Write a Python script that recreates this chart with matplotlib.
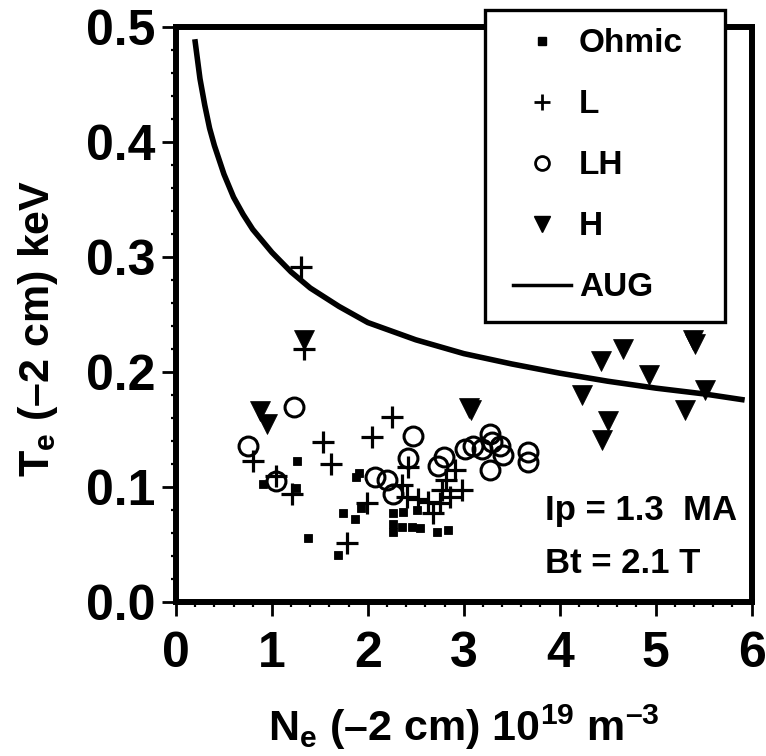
import matplotlib
matplotlib.use('Agg')
import matplotlib.pyplot as plt
from matplotlib import font_manager
from matplotlib.lines import Line2D
from matplotlib.legend_handler import HandlerLine2D
from matplotlib.ticker import MultipleLocator, FixedLocator, FixedFormatter

# ---------------- data ----------------
ohmic_x = [1.265, 0.904, 1.251, 1.908, 1.874, 1.745, 1.870, 1.926, 1.380, 1.693,
           2.266, 2.370, 2.510, 2.266, 2.353, 2.458, 2.544, 2.266, 2.718, 2.840]
ohmic_y = [0.123, 0.103, 0.099, 0.112, 0.109, 0.0775, 0.0726, 0.082, 0.056, 0.041,
           0.077, 0.078, 0.080, 0.068, 0.065, 0.065, 0.064, 0.061, 0.061, 0.0625]

L_x = [1.300, 1.335, 0.806, 1.530, 1.613, 2.040, 2.249, 1.043, 1.206, 1.988, 1.786,
       2.420, 2.353, 2.405, 2.527, 2.630, 2.683, 2.770, 2.820, 2.910, 2.980, 2.857, 2.753]
L_y = [0.291, 0.220, 0.123, 0.139, 0.120, 0.1435, 0.161, 0.110, 0.0935, 0.086, 0.051,
       0.1175, 0.1016, 0.0914, 0.090, 0.087, 0.077, 0.097, 0.106, 0.115, 0.097, 0.091, 0.086]

LH_x = [1.230, 0.751, 1.043, 2.075, 2.197, 2.266, 2.475, 2.420, 2.735, 2.795,
        3.014, 3.100, 3.187, 3.274, 3.290, 3.378, 3.413, 3.274, 3.674, 3.674]
LH_y = [0.170, 0.136, 0.105, 0.109, 0.106, 0.094, 0.144, 0.125, 0.118, 0.126,
        0.133, 0.136, 0.133, 0.146, 0.139, 0.136, 0.128, 0.115, 0.1305, 0.122]

H_x = [0.876, 0.945, 1.335, 3.050, 3.080, 4.230, 4.430, 4.445, 4.500, 4.665,
       4.930, 5.310, 5.390, 5.410, 5.516]
H_y = [0.166, 0.155, 0.228, 0.169, 0.167, 0.180, 0.210, 0.141, 0.157, 0.220,
       0.197, 0.167, 0.228, 0.224, 0.184]

aug_x = [0.20, 0.25, 0.30, 0.35, 0.40, 0.50, 0.60, 0.70, 0.80, 1.00, 1.20, 1.40,
         1.70, 2.00, 2.50, 3.00, 3.50, 4.00, 4.50, 5.00, 5.50, 5.90]
aug_y = [0.487, 0.455, 0.432, 0.412, 0.397, 0.372, 0.352, 0.337, 0.324, 0.304, 0.287,
         0.273, 0.257, 0.243, 0.228, 0.216, 0.207, 0.199, 0.192, 0.186, 0.181, 0.176]

legend_labels = ['Ohmic', 'L', 'LH', 'H', 'AUG']
x_ticks = [0, 1, 2, 3, 4, 5, 6]
x_tick_labels = ['0', '1', '2', '3', '4', '5', '6']
y_ticks = [0.0, 0.1, 0.2, 0.3, 0.4, 0.5]
y_tick_labels = ['0.0', '0.1', '0.2', '0.3', '0.4', '0.5']

# ---------------- fonts ----------------
names = {f.name for f in font_manager.fontManager.ttflist}
font = 'Liberation Sans Narrow' if 'Liberation Sans Narrow' in names else 'Liberation Sans'
plt.rcParams['font.family'] = [font, 'DejaVu Sans']
plt.rcParams['font.weight'] = 'bold'
plt.rcParams['mathtext.fontset'] = 'custom'
plt.rcParams['mathtext.rm'] = font + ':bold'
plt.rcParams['mathtext.it'] = font + ':bold'
plt.rcParams['mathtext.bf'] = font + ':bold'
plt.rcParams['mathtext.default'] = 'rm'

W, H = 766, 756
fig = plt.figure(figsize=(W / 100, H / 100), dpi=100)
L0, R0, T0, B0 = 176, 751.5, 27, 602
ax = fig.add_axes([L0 / W, 1 - B0 / H, (R0 - L0) / W, (B0 - T0) / H])

ax.plot(aug_x, aug_y, color='k', lw=4, solid_joinstyle='round', zorder=2)
ax.plot(ohmic_x, ohmic_y, ls='none', marker='s', ms=5.2, mew=0.6, color='k', zorder=3)
ax.plot(L_x, L_y, ls='none', marker='+', ms=15.5, mew=2.3, color='k', zorder=3)
ax.plot(LH_x, LH_y, ls='none', marker='o', ms=13.6, mew=2.2, mfc='none', mec='k', zorder=3)
ax.plot(H_x, H_y, ls='none', marker='v', ms=15, mew=0.5, color='k', zorder=3)

ax.set_xlim(0, 6)
ax.set_ylim(0, 0.5)
ax.xaxis.set_major_locator(FixedLocator(x_ticks))
ax.xaxis.set_major_formatter(FixedFormatter(x_tick_labels))
ax.yaxis.set_major_locator(FixedLocator(y_ticks))
ax.yaxis.set_major_formatter(FixedFormatter(y_tick_labels))
ax.xaxis.set_minor_locator(MultipleLocator(0.2))
ax.yaxis.set_minor_locator(MultipleLocator(0.02))

for s in ax.spines.values():
    s.set_linewidth(4.3)
ax.tick_params(which='major', direction='out', length=10, width=2, labelsize=36,
               top=False, right=False)
ax.tick_params(which='minor', direction='out', length=3.5, width=1.6,
               top=False, right=False)
ax.tick_params(axis='x', which='major', pad=11)
ax.tick_params(axis='y', which='major', pad=5)

ax.set_xlabel(r'N$_{e}$ (–2 cm) 10$^{19}$ m$^{–3}$', fontsize=31, fontweight='bold', va='center')
ax.xaxis.set_label_coords(0.5, (B0 - 727) / (B0 - T0))
ax.set_ylabel(r'T$_{e}$ (–2 cm) keV', fontsize=31, fontweight='bold', va='center')
ax.yaxis.set_label_coords((38 - L0) / (R0 - L0), (B0 - 328) / (B0 - T0))

ax.text(0.642, (B0 - 520) / (B0 - T0), 'Ip = 1.3  MA', transform=ax.transAxes,
        fontsize=25, fontweight='bold', va='baseline', ha='left')
ax.text(0.642, (B0 - 573) / (B0 - T0), 'Bt = 2.1 T', transform=ax.transAxes,
        fontsize=25, fontweight='bold', va='baseline', ha='left')

handles = [
    Line2D([], [], ls='none', marker='s', ms=5.5, color='k'),
    Line2D([], [], ls='none', marker='+', ms=12, mew=2, color='k'),
    Line2D([], [], ls='none', marker='o', ms=10, mew=2, mfc='none', mec='k'),
    Line2D([], [], ls='none', marker='v', ms=11, color='k'),
    Line2D([], [], color='k', lw=2.5),
]
fs_leg = 24
x0 = (485 - L0) / (R0 - L0)
w = (725 - 485) / (R0 - L0)
y1 = (B0 - 10) / (B0 - T0)
y0 = (B0 - 317) / (B0 - T0)
leg = ax.legend(handles, legend_labels, loc='upper left',
                bbox_to_anchor=(x0, y0, w, y1 - y0), mode='expand', borderaxespad=0,
                prop={'size': fs_leg, 'weight': 'bold'}, numpoints=1,
                borderpad=0.55, labelspacing=0.9, handlelength=2.03, handletextpad=0.24,
                fancybox=False, framealpha=1, edgecolor='k',
                handler_map={Line2D: HandlerLine2D(xpad=0.3)})
leg.get_frame().set_linewidth(2.4)
leg.set_zorder(10)

fig.savefig('out.png', dpi=100)
